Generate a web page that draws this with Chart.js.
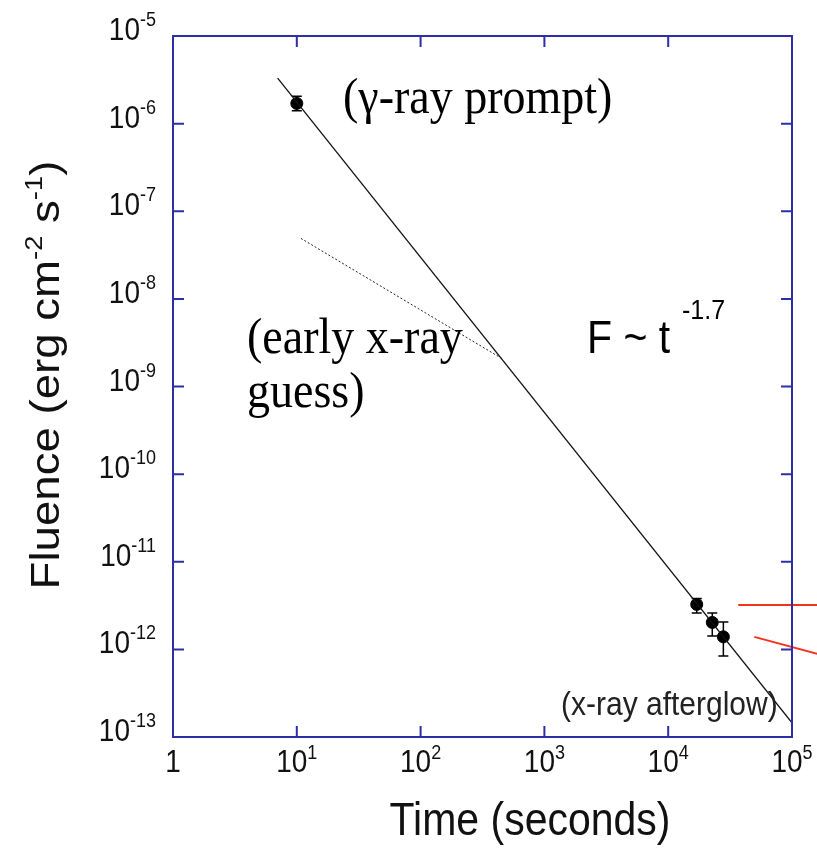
<!DOCTYPE html>
<html>
<head>
<meta charset="utf-8">
<script src="https://cdn.jsdelivr.net/npm/chart.js@4"></script>
<style>
  html, body { margin: 0; padding: 0; background: #fff; }
  #wrap { width: 817px; height: 848px; }
</style>
</head>
<body>
<div id="wrap"><canvas id="fluenceChart" width="817" height="848"></canvas></div>
<script>
// Data
const promptTime = [10];
const promptFluence = [1.7e-6];
const promptLow = [1.4e-6];
const promptHigh = [2.05e-6];

const afterglowTime = [1.7e4, 2.27e4, 2.79e4];
const afterglowFluence = [3.26e-12, 2.03e-12, 1.39e-12];
const afterglowLow = [2.6e-12, 1.42e-12, 8.4e-13];
const afterglowHigh = [3.8e-12, 2.6e-12, 2.05e-12];

// power-law fit F ~ t^-1.7 (two end points)
const fitTime = [7.0, 1e5];
const fitFluence = [3.3e-6, 1.45e-13];

// early x-ray guess (dotted)
const guessTime = [10.8, 452];
const guessFluence = [4.9e-8, 2.09e-9];

// red pointer lines outside the frame
const redTimeA = [3.68e4, 1.6e5];
const redFluenceA = [3.2e-12, 3.2e-12];
const redTimeB = [4.96e4, 1.6e5];
const redFluenceB = [1.39e-12, 8.9e-13];

const xTickValues = [1, 10, 100, 1000, 1e4, 1e5];
const xTickExps = [null, 1, 2, 3, 4, 5];
const yTickExps = [-5, -6, -7, -8, -9, -10, -11, -12, -13];

const SANS = '"Liberation Sans", Arial, sans-serif';
const SERIF = '"Liberation Serif", "Times New Roman", serif';
const FRAME = '#2e2ea6';
const SY = 1.12; // the original lettering is a bit taller than wide

const toXY = (xs, ys) => xs.map((x, i) => ({ x: x, y: ys[i] }));

// text drawn with a small vertical stretch
function tallText(ctx, text, x, y, font, align) {
  ctx.save();
  ctx.font = font;
  ctx.textAlign = align || 'left';
  ctx.textBaseline = 'alphabetic';
  ctx.translate(x, y);
  ctx.scale(1, SY);
  ctx.fillText(text, 0, 0);
  ctx.restore();
}

function powWidth(ctx, base, exp, size, supSize) {
  ctx.font = `${size}px ${SANS}`;
  let w = ctx.measureText(base).width;
  if (exp !== null) {
    ctx.font = `${supSize}px ${SANS}`;
    w += ctx.measureText(String(exp)).width;
  }
  return w;
}

function drawPow(ctx, base, exp, x, y, size, supSize, raise) {
  tallText(ctx, base, x, y, `${size}px ${SANS}`);
  ctx.font = `${size}px ${SANS}`;
  const bw = ctx.measureText(base).width;
  if (exp !== null) {
    tallText(ctx, String(exp), x + bw, y - raise, `${supSize}px ${SANS}`);
  }
}

const framePlugin = {
  id: 'frame',
  beforeDatasetsDraw(chart) {
    const ctx = chart.ctx;
    const xs = chart.scales.x, ys = chart.scales.y;
    // error bars
    ctx.save();
    ctx.strokeStyle = '#000';
    ctx.lineWidth = 1.5;
    const bars = [
      [promptTime, promptLow, promptHigh],
      [afterglowTime, afterglowLow, afterglowHigh]
    ];
    bars.forEach(([t, lo, hi]) => {
      t.forEach((v, i) => {
        const px = xs.getPixelForValue(v);
        const y1 = ys.getPixelForValue(lo[i]);
        const y2 = ys.getPixelForValue(hi[i]);
        ctx.beginPath();
        ctx.moveTo(px, y1); ctx.lineTo(px, y2);
        ctx.moveTo(px - 5, y1); ctx.lineTo(px + 5, y1);
        ctx.moveTo(px - 5, y2); ctx.lineTo(px + 5, y2);
        ctx.stroke();
      });
    });
    ctx.restore();
  },
  afterDraw(chart) {
    const ctx = chart.ctx;
    const a = chart.chartArea;
    const xs = chart.scales.x, ys = chart.scales.y;
    ctx.save();

    // frame and inward ticks
    ctx.strokeStyle = FRAME;
    ctx.lineWidth = 2;
    ctx.strokeRect(a.left, a.top, a.right - a.left, a.bottom - a.top);
    ctx.beginPath();
    xTickValues.forEach(v => {
      const px = xs.getPixelForValue(v);
      ctx.moveTo(px, a.bottom); ctx.lineTo(px, a.bottom - 11);
      ctx.moveTo(px, a.top); ctx.lineTo(px, a.top + 11);
    });
    yTickExps.forEach(e => {
      const py = ys.getPixelForValue(Math.pow(10, e));
      ctx.moveTo(a.left, py); ctx.lineTo(a.left + 11, py);
      ctx.moveTo(a.right, py); ctx.lineTo(a.right - 11, py);
    });
    ctx.stroke();

    // tick labels
    ctx.fillStyle = '#111';
    xTickValues.forEach((v, i) => {
      const px = xs.getPixelForValue(v);
      const exp = xTickExps[i];
      const base = exp === null ? '1' : '10';
      const w = powWidth(ctx, base, exp, 28, 18);
      drawPow(ctx, base, exp, px - w / 2, a.bottom + 35, 28, 18, 13);
    });
    yTickExps.forEach(e => {
      const py = ys.getPixelForValue(Math.pow(10, e));
      const w = powWidth(ctx, '10', e, 28, 18);
      drawPow(ctx, '10', e, 156 - w, py + 4, 28, 18, 14);
    });

    // x title
    tallText(ctx, 'Time (seconds)', 530, 835, `41px ${SANS}`, 'center');

    // y title, rotated, with superscripts
    ctx.save();
    ctx.translate(59, 375);
    ctx.rotate(-Math.PI / 2);
    ctx.scale(1.14, 1);
    const parts = [
      ['Fluence (erg cm', 40, 0], ['-2', 24, 17], [' s', 40, 0], ['-1', 24, 17], [')', 40, 0]
    ];
    let total = 0;
    parts.forEach(p => { ctx.font = `${p[1]}px ${SANS}`; total += ctx.measureText(p[0]).width; });
    let cx = -total / 2;
    ctx.textAlign = 'left';
    parts.forEach(p => {
      ctx.font = `${p[1]}px ${SANS}`;
      ctx.fillText(p[0], cx, -p[2]);
      cx += ctx.measureText(p[0]).width;
    });
    ctx.restore();

    // annotations
    ctx.fillStyle = '#000';
    tallText(ctx, '(\u03b3-ray prompt)', 343, 113, `46px ${SERIF}`);
    tallText(ctx, '(early x-ray', 247, 353, `46px ${SERIF}`);
    tallText(ctx, 'guess)', 247, 407, `46px ${SERIF}`);

    tallText(ctx, 'F ~ t', 587, 353, `41px ${SANS}`);
    tallText(ctx, '-1.7', 682, 319, `25px ${SANS}`);

    ctx.fillStyle = '#222';
    tallText(ctx, '(x-ray afterglow)', 561, 715, `30px ${SANS}`);

    ctx.restore();
  }
};

function initChart() {
  const ctx = document.getElementById('fluenceChart').getContext('2d');
  return new Chart(ctx, {
    type: 'scatter',
    data: {
      datasets: [{
        label: 'fit',
        data: toXY(fitTime, fitFluence),
        showLine: true,
        borderColor: '#111',
        borderWidth: 1.3,
        pointRadius: 0,
        tension: 0
      }, {
        label: 'early guess',
        data: toXY(guessTime, guessFluence),
        showLine: true,
        borderColor: '#222',
        borderWidth: 1,
        borderDash: [2, 2],
        pointRadius: 0
      }, {
        label: 'prompt',
        data: toXY(promptTime, promptFluence),
        backgroundColor: '#000',
        borderColor: '#000',
        pointRadius: 6
      }, {
        label: 'afterglow',
        data: toXY(afterglowTime, afterglowFluence),
        backgroundColor: '#000',
        borderColor: '#000',
        pointRadius: 6
      }, {
        label: 'red A',
        data: toXY(redTimeA, redFluenceA),
        showLine: true,
        borderColor: '#f5321e',
        borderWidth: 2,
        pointRadius: 0,
        clip: false
      }, {
        label: 'red B',
        data: toXY(redTimeB, redFluenceB),
        showLine: true,
        borderColor: '#f5321e',
        borderWidth: 2,
        pointRadius: 0,
        clip: false
      }]
    },
    options: {
      responsive: false,
      animation: false,
      layout: { padding: { left: 173, right: 25, top: 36, bottom: 111 } },
      plugins: {
        legend: { display: false },
        tooltip: { enabled: false }
      },
      scales: {
        x: { type: 'logarithmic', min: 1, max: 1e5, display: false },
        y: { type: 'logarithmic', min: 1e-13, max: 1e-5, display: false }
      }
    },
    plugins: [framePlugin]
  });
}

window.addEventListener('load', () => {
  try {
    initChart();
  } catch (error) {
    console.error('Initialization error:', error);
  }
});
</script>
</body>
</html>
